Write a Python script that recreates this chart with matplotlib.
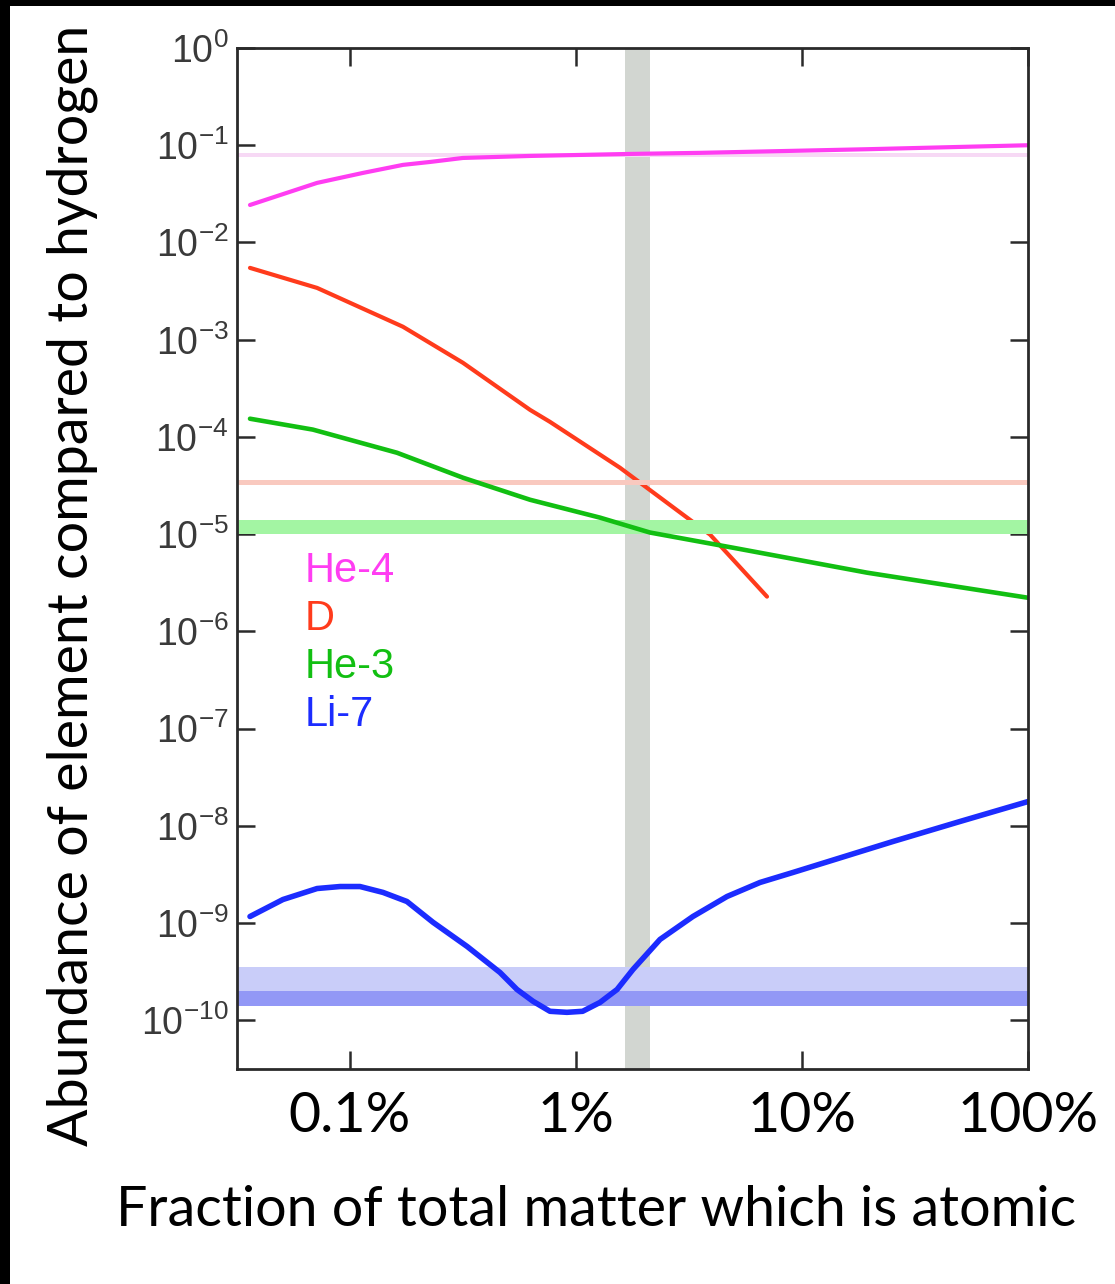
import matplotlib
matplotlib.use("Agg")
import matplotlib.pyplot as plt
from matplotlib.patches import Rectangle
from matplotlib.ticker import NullLocator, LogFormatterSciNotation

# ---------------- data (x in percent of total matter that is atomic) -------------
he4_x = [0.0361, 0.0715, 0.114, 0.1715, 0.226, 0.316, 0.626, 1.733, 3.54, 19.4, 100]
he4_y = [0.0243, 0.041, 0.0519, 0.0628, 0.0673, 0.074, 0.0776, 0.0814, 0.0835, 0.091, 0.100]

d_x = [0.0361, 0.0715, 0.1715, 0.316, 0.626, 0.767, 1.566, 3.10, 3.92, 7.0]
d_y = [5.48e-3, 3.41e-3, 1.36e-3, 5.79e-4, 1.90e-4, 1.43e-4, 4.82e-5, 1.48e-5, 9.9e-6, 2.28e-6]

he3_x = [0.0361, 0.0685, 0.1614, 0.316, 0.626, 1.277, 2.125, 4.95, 19.4, 100]
he3_y = [1.54e-4, 1.19e-4, 6.88e-5, 3.81e-5, 2.26e-5, 1.48e-5, 1.04e-5, 7.26e-6, 4.02e-6, 2.22e-6]

li7_x = [0.0361, 0.0505, 0.0715, 0.0904, 0.1107, 0.140, 0.1786, 0.233, 0.330, 0.461,
         0.548, 0.646, 0.767, 0.912, 1.07, 1.277, 1.52, 1.787, 2.354, 3.29, 4.66,
         6.52, 9.12, 25.3, 50, 100]
li7_y = [1.17e-9, 1.75e-9, 2.27e-9, 2.38e-9, 2.38e-9, 2.07e-9, 1.67e-9, 1.02e-9, 5.75e-10,
         3.11e-10, 2.08e-10, 1.57e-10, 1.24e-10, 1.21e-10, 1.24e-10, 1.53e-10, 2.08e-10,
         3.34e-10, 6.8e-10, 1.17e-9, 1.88e-9, 2.62e-9, 3.32e-9, 6.92e-9, 1.11e-8, 1.78e-8]

# observed abundance bands (low, high)
he4_obs = (0.0759, 0.0824)
d_obs = (3.22e-5, 3.63e-5)
he3_obs = (1.01e-5, 1.41e-5)
li7_obs_wide = (1.39e-10, 3.51e-10)
li7_obs_core = (1.39e-10, 1.99e-10)
# band of measured atomic fraction (percent)
atomic_band = (1.65, 2.125)

legend_labels = ["He-4", "D", "He-3", "Li-7"]
xtick_vals = [0.1, 1, 10, 100]
xtick_labels = ["0.1%", "1%", "10%", "100%"]
ytick_vals = [1e0, 1e-1, 1e-2, 1e-3, 1e-4, 1e-5, 1e-6, 1e-7, 1e-8, 1e-9, 1e-10]

# ---------------- styling -------------
plt.rcParams["font.family"] = ["Liberation Sans", "DejaVu Sans"]
plt.rcParams["mathtext.fontset"] = "custom"
plt.rcParams["mathtext.rm"] = "Liberation Sans"
plt.rcParams["axes.unicode_minus"] = False

c_he4 = "#ff3df2"
c_d = "#ff3b1c"
c_he3 = "#12bf12"
c_li7 = "#1c2cff"

W, H = 1115, 1284
fig = plt.figure(figsize=(W / 100, H / 100), dpi=100)
fig.patch.set_facecolor("white")

# black frame strips (top and left)
fig.patches.append(Rectangle((0, 1 - 6 / H), 1, 6 / H, transform=fig.transFigure,
                             facecolor="black", edgecolor="none", zorder=0))
fig.patches.append(Rectangle((0, 0), 10 / W, 1, transform=fig.transFigure,
                             facecolor="black", edgecolor="none", zorder=0))

ax = fig.add_axes([237 / W, 1 - 1069 / H, 791 / W, 1021 / H])
ax.set_xscale("log")
ax.set_yscale("log")
ax.set_xlim(10 ** -1.5, 100)
ax.set_ylim(10 ** -10.5, 1)

ax.axvspan(*atomic_band, color="#d2d6d1", lw=0, zorder=1)
ax.plot(d_x, d_y, color=c_d, lw=3.0, zorder=2, solid_capstyle="round",
        solid_joinstyle="round")

ax.axhspan(*he4_obs, color="#f7d9f5", lw=0, zorder=3)
ax.axhspan(*d_obs, color="#f9c9bf", lw=0, zorder=3)
ax.axhspan(*he3_obs, color="#a3f5a3", lw=0, zorder=3)
ax.axhspan(*li7_obs_wide, color="#c9cdf9", lw=0, zorder=3)
ax.axhspan(*li7_obs_core, color="#9298f6", lw=0, zorder=3)

ax.plot(he4_x, he4_y, color=c_he4, lw=3.0, zorder=4, solid_capstyle="round",
        solid_joinstyle="round")
ax.plot(he3_x, he3_y, color=c_he3, lw=3.3, zorder=4, solid_capstyle="round",
        solid_joinstyle="round")
ax.plot(li7_x, li7_y, color=c_li7, lw=4.0, zorder=4, solid_capstyle="round",
        solid_joinstyle="round")

# legend text
for i, (lab, col) in enumerate(zip(legend_labels, [c_he4, c_d, c_he3, c_li7])):
    ax.text(0.086, 0.4880 - i * 0.047, lab, transform=ax.transAxes, color=col,
            fontsize=30, ha="left", va="center", zorder=5)

# spines / ticks
for s in ax.spines.values():
    s.set_color("#2a2a2a")
    s.set_linewidth(2.0)
    s.set_zorder(6)

ax.set_yticks(ytick_vals)
ax.yaxis.set_major_formatter(LogFormatterSciNotation())
ax.set_xticks(xtick_vals)
ax.set_xticklabels(xtick_labels)
ax.xaxis.set_minor_locator(NullLocator())
ax.yaxis.set_minor_locator(NullLocator())

ax.tick_params(which="major", direction="in", length=13, width=1.8, color="#2a2a2a",
               top=True, right=True)
ax.tick_params(axis="y", labelsize=27, labelcolor="#3a3a3a", pad=6)
ax.tick_params(axis="x", labelsize=40, labelcolor="black", pad=16)
for t in ax.get_xticklabels():
    t.set_fontfamily(["Lato", "DejaVu Sans"])

# axis titles
fig.text(596 / W, 1 - 1210 / H, "Fraction of total matter which is atomic",
         ha="center", va="center", fontsize=40, family=["Lato", "DejaVu Sans"])
fig.text(72 / W, 1 - 585 / H, "Abundance of element compared to hydrogen",
         ha="center", va="center", rotation=90, fontsize=40,
         family=["Lato", "DejaVu Sans"])

fig.savefig("out.png", dpi=100, facecolor="white")
